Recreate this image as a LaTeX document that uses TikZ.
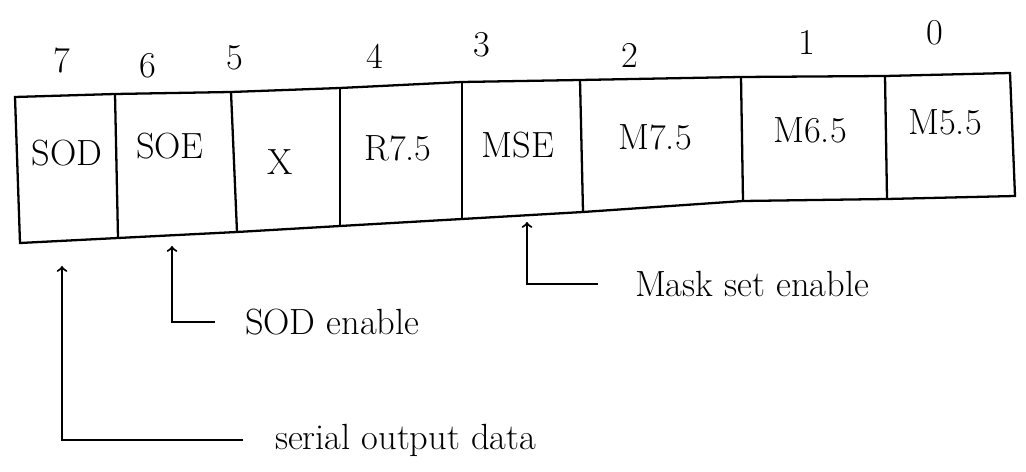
\documentclass[tikz,border=0pt]{standalone}
\usepackage{tikz}
\usetikzlibrary{positioning}
\tikzstyle{bitno}=[font=\huge]
\tikzstyle{field}=[font=\huge]
\tikzstyle{note}=[anchor=west, font=\huge]
\tikzstyle{pointer}=[->, line width=1.2pt]

\begin{document}
\begin{tikzpicture}[x=0.02cm, y=-0.02cm, line width=1.3pt]
            \useasboundingbox (0,0) rectangle (1026,472);

            % top and bottom corners of the register
            \coordinate (t0) at (15,97);
            \coordinate (t1) at (115,94);
            \coordinate (t2) at (231,92);
            \coordinate (t3) at (340,88);
            \coordinate (t4) at (462,82);
            \coordinate (t5) at (580,80);
            \coordinate (t6) at (741,77);
            \coordinate (t7) at (885,76);
            \coordinate (t8) at (1010,73);
            \coordinate (b0) at (20,243);
            \coordinate (b1) at (118,238);
            \coordinate (b2) at (237,232);
            \coordinate (b3) at (340,226);
            \coordinate (b4) at (462,219);
            \coordinate (b5) at (583,212);
            \coordinate (b6) at (743,201);
            \coordinate (b7) at (887,199);
            \coordinate (b8) at (1015,196);

            \draw (t0) -- (t1) -- (t2) -- (t3) -- (t4) -- (t5) -- (t6) -- (t7) -- (t8)
                  -- (b8) -- (b7) -- (b6) -- (b5) -- (b4) -- (b3) -- (b2) -- (b1) -- (b0) -- cycle;
            \draw (t1) -- (b1);
            \draw (t2) -- (b2);
            \draw (t3) -- (b3);
            \draw (t4) -- (b4);
            \draw (t5) -- (b5);
            \draw (t6) -- (b6);
            \draw (t7) -- (b7);

            % bit numbers
            \node[bitno] (bit7) at (62,60) {7};
            \node[bitno] (bit6) at (148,66) {6};
            \node[bitno] (bit5) at (235,58) {5};
            \node[bitno] (bit4) at (375,56) {4};
            \node[bitno] (bit3) at (482,45) {3};
            \node[bitno] (bit2) at (630,55) {2};
            \node[bitno] (bit1) at (807,42) {1};
            \node[bitno] (bit0) at (935,33) {0};

            % fields
            \node[field] (sod) at (67,153) {SOD};
            \node[field] (soe) at (170,146) {SOE};
            \node[field] (x)   at (280,162) {X};
            \node[field] (r75) at (398,148) {R7.5};
            \node[field] (mse) at (518,145) {MSE};
            \node[field] (m75) at (655,137) {M7.5};
            \node[field] (m65) at (810,130) {M6.5};
            \node[field] (m55) at (945,122) {M5.5};

            % notes under the register
            \node[note] (mskset) at (628,284) {Mask set enable};
            \node[note] (sodena) at (238,322) {SOD enable};
            \node[note] (serout) at (268,440) {serial output data};

            \coordinate (a7) at (62,266);
            \coordinate (a6) at (172,246);
            \coordinate (a3) at (527,222);

            \draw[pointer] ([xshift=-0.6cm]mskset.west) -| (a3);
            \draw[pointer] ([xshift=-0.46cm]sodena.west) -| (a6);
            \draw[pointer] ([xshift=-0.5cm]serout.west) -| (a7);
        \end{tikzpicture}
\end{document}
